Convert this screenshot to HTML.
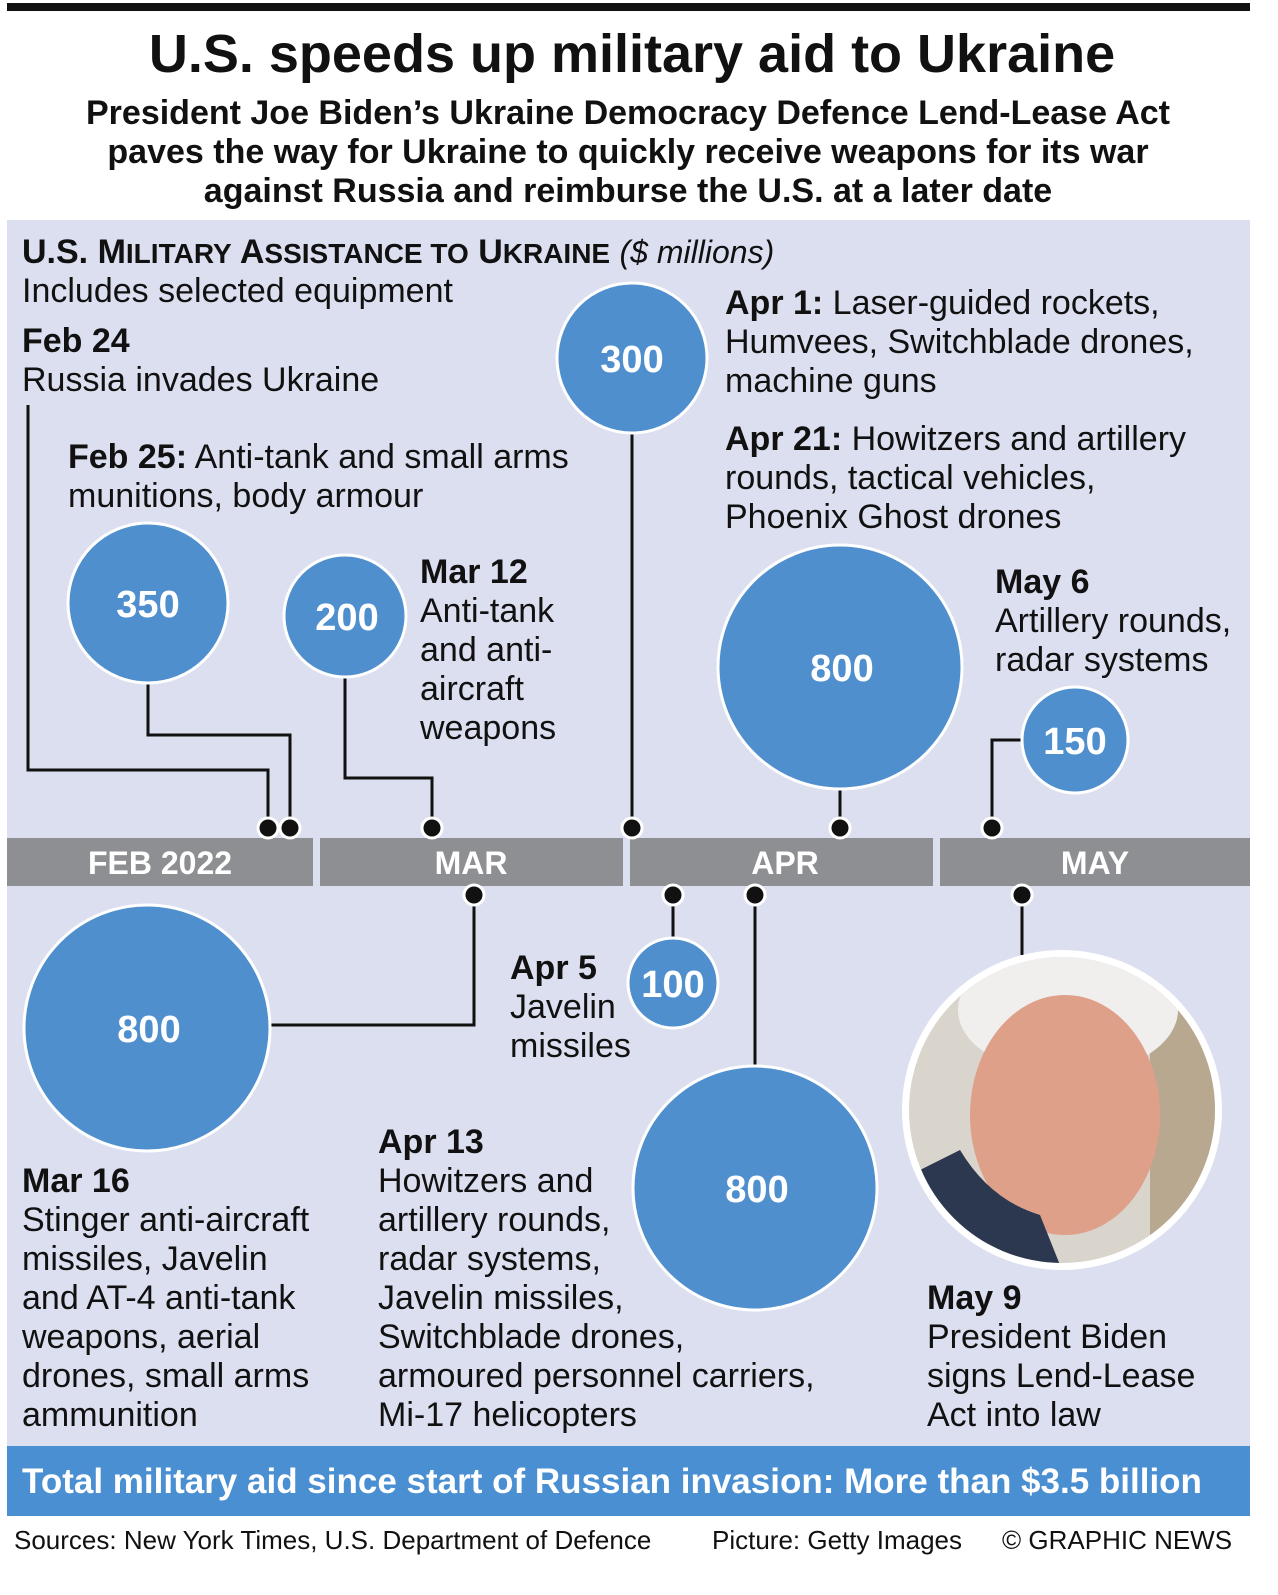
<!DOCTYPE html>
<html><head><meta charset="utf-8"><style>
body{margin:0;background:#fff;}
svg{display:block;font-family:"Liberation Sans",Arial,sans-serif;}
</style></head><body>
<svg width="1278" height="1595" viewBox="0 0 1278 1595" xmlns="http://www.w3.org/2000/svg">
<rect width="1278" height="1595" fill="#fff"/>
<rect x="7" y="3" width="1243" height="8" fill="#111"/>
<text x="632" y="72" font-size="54" font-weight="bold" text-anchor="middle" fill="#111">U.S. speeds up military aid to Ukraine</text>
<g font-size="34" font-weight="bold" text-anchor="middle" fill="#111">
<text x="628" y="124">President Joe Biden’s Ukraine Democracy Defence Lend-Lease Act</text>
<text x="628" y="163">paves the way for Ukraine to quickly receive weapons for its war</text>
<text x="628" y="202">against Russia and reimburse the U.S. at a later date</text>
</g>
<rect x="7" y="220" width="1243" height="1226" fill="#dcdff0"/>
<g fill="#8e8f92">
<rect x="7" y="838" width="306" height="48"/><rect x="320" y="838" width="303" height="48"/>
<rect x="630" y="838" width="303" height="48"/><rect x="940" y="838" width="310" height="48"/>
</g>
<g font-size="32" font-weight="bold" fill="#fff" text-anchor="middle">
<text x="160" y="874">FEB 2022</text><text x="471" y="874">MAR</text><text x="785" y="874">APR</text><text x="1095" y="874">MAY</text>
</g>
<g stroke="#111" stroke-width="3" fill="none">
<polyline points="28,405 28,770 268,770 268,828"/>
<polyline points="148,683 148,735 290,735 290,828"/>
<polyline points="345,676 345,778 432,778 432,828"/>
<line x1="632" y1="433" x2="632" y2="828"/>
<line x1="840" y1="789" x2="840" y2="828"/>
<polyline points="1023,740 992,740 992,828"/>
<polyline points="474,895 474,1025 269,1025"/>
<line x1="673" y1="895" x2="673" y2="938"/>
<line x1="755" y1="895" x2="755" y2="1066"/>
<line x1="1022" y1="895" x2="1022" y2="955"/>
</g>
<g fill="#111" stroke="#fff" stroke-width="3">
<circle cx="268" cy="828" r="10"/><circle cx="290" cy="828" r="10"/><circle cx="432" cy="828" r="10"/>
<circle cx="632" cy="828" r="10"/><circle cx="840" cy="828" r="10"/><circle cx="992" cy="828" r="10"/>
<circle cx="474" cy="895" r="10"/><circle cx="673" cy="895" r="10"/><circle cx="755" cy="895" r="10"/><circle cx="1022" cy="895" r="10"/>
</g>
<g fill="#4f8fcd" stroke="#fff" stroke-width="3">
<circle cx="148" cy="603" r="80"/><circle cx="345" cy="616" r="61"/><circle cx="632" cy="358" r="75"/>
<circle cx="840" cy="667" r="122"/><circle cx="1075" cy="740" r="53"/><circle cx="147" cy="1028" r="123"/>
<circle cx="673" cy="983" r="45"/><circle cx="755" cy="1188" r="122"/>
</g>
<g font-size="38" font-weight="bold" fill="#fff" text-anchor="middle">
<text x="148" y="617">350</text><text x="347" y="630">200</text><text x="632" y="372">300</text>
<text x="842" y="681">800</text><text x="1075" y="754">150</text><text x="149" y="1042">800</text>
<text x="673" y="997">100</text><text x="757" y="1202">800</text>
</g>
<defs><clipPath id="pc"><circle cx="1062" cy="1110" r="153"/></clipPath></defs>
<circle cx="1062" cy="1110" r="160" fill="#fff"/>
<g clip-path="url(#pc)">
<rect x="900" y="950" width="330" height="330" fill="#d9d4cc"/>
<rect x="1150" y="950" width="80" height="330" fill="#b8a890"/>
<ellipse cx="1068" cy="1010" rx="110" ry="65" fill="#f0efee"/>
<ellipse cx="1065" cy="1115" rx="95" ry="120" fill="#dfa08a"/>
<path d="M900 1180 Q950 1250 1010 1270 L1062 1270 L1040 1215 Q990 1200 960 1150 Z" fill="#2c3850"/>
</g>
<g font-size="34" fill="#111">
<text x="22" y="263"><tspan font-weight="bold">U.S. M<tspan font-size="28">ILITARY</tspan> A<tspan font-size="28">SSISTANCE TO</tspan> U<tspan font-size="28">KRAINE</tspan></tspan> <tspan font-style="italic" font-size="32">($ millions)</tspan></text>
<text x="22" y="302">Includes selected equipment</text>
<text x="22" y="352" font-weight="bold">Feb 24</text>
<text x="22" y="391">Russia invades Ukraine</text>
<text x="68" y="468"><tspan font-weight="bold">Feb 25:</tspan> Anti-tank and small arms</text>
<text x="68" y="507">munitions, body armour</text>
<text x="420" y="583" font-weight="bold">Mar 12</text>
<text x="420" y="622">Anti-tank</text><text x="420" y="661">and anti-</text><text x="420" y="700">aircraft</text><text x="420" y="739">weapons</text>
<text x="725" y="314"><tspan font-weight="bold">Apr 1:</tspan> Laser-guided rockets,</text>
<text x="725" y="353">Humvees, Switchblade drones,</text>
<text x="725" y="392">machine guns</text>
<text x="725" y="450"><tspan font-weight="bold">Apr 21:</tspan> Howitzers and artillery</text>
<text x="725" y="489">rounds, tactical vehicles,</text>
<text x="725" y="528">Phoenix Ghost drones</text>
<text x="995" y="593" font-weight="bold">May 6</text>
<text x="995" y="632">Artillery rounds,</text><text x="995" y="671">radar systems</text>
<text x="510" y="979" font-weight="bold">Apr 5</text>
<text x="510" y="1018">Javelin</text><text x="510" y="1057">missiles</text>
<text x="22" y="1192" font-weight="bold">Mar 16</text>
<text x="22" y="1231">Stinger anti-aircraft</text><text x="22" y="1270">missiles, Javelin</text>
<text x="22" y="1309">and AT-4 anti-tank</text><text x="22" y="1348">weapons, aerial</text>
<text x="22" y="1387">drones, small arms</text><text x="22" y="1426">ammunition</text>
<text x="378" y="1153" font-weight="bold">Apr 13</text>
<text x="378" y="1192">Howitzers and</text><text x="378" y="1231">artillery rounds,</text>
<text x="378" y="1270">radar systems,</text><text x="378" y="1309">Javelin missiles,</text>
<text x="378" y="1348">Switchblade drones,</text><text x="378" y="1387">armoured personnel carriers,</text>
<text x="378" y="1426">Mi-17 helicopters</text>
<text x="927" y="1309" font-weight="bold">May 9</text>
<text x="927" y="1348">President Biden</text><text x="927" y="1387">signs Lend-Lease</text><text x="927" y="1426">Act into law</text>
</g>
<rect x="7" y="1446" width="1243" height="70" fill="#4a8fd2"/>
<text x="612" y="1493" font-size="35" font-weight="bold" fill="#fff" text-anchor="middle">Total military aid since start of Russian invasion: More than $3.5 billion</text>
<g font-size="26" fill="#111">
<text x="14" y="1549">Sources: New York Times, U.S. Department of Defence</text>
<text x="712" y="1549">Picture: Getty Images</text>
<text x="1002" y="1549">© GRAPHIC NEWS</text>
</g>
</svg>
</body></html>
